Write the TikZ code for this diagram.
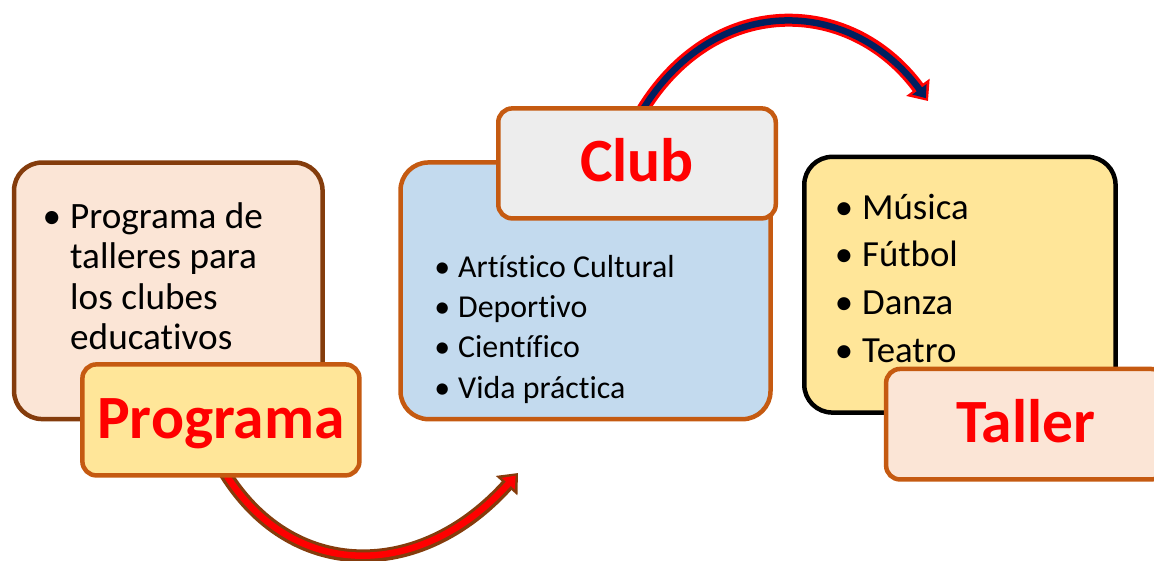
\documentclass[tikz,border=0pt]{standalone}
\usepackage{fontspec}
\setmainfont{Carlito}[Ligatures=NoCommon]
\usetikzlibrary{arrows.meta,backgrounds}
\definecolor{brownA}{HTML}{843C0C}
\definecolor{orangeB}{HTML}{C55A11}
\definecolor{peachA}{HTML}{FBE5D6}
\definecolor{yellowA}{HTML}{FFE699}
\definecolor{blueA}{HTML}{C3DAEE}
\definecolor{greyA}{HTML}{EDEDED}
\definecolor{navyA}{HTML}{002060}
\begin{document}
\begin{tikzpicture}[x=1pt,y=-1pt,
  panel/.style={rounded corners=28pt, line width=4.5pt, inner sep=0pt},
  tagbox/.style={rounded corners=14pt, line width=4.5pt, inner sep=0pt, draw=orangeB,
    text=red, font=\fontsize{61.5}{62}\selectfont\bfseries, text height=37pt, text depth=0pt,
    minimum width=277pt, minimum height=111pt},
  listtext/.style={anchor=base west, inner sep=0pt},
  outerA/.style={line width=13pt, brownA, -{Triangle[length=17pt,width=28pt]}},
  innerA/.style={line width=6.5pt, red, shorten >=3.5pt, -{Triangle[length=11pt,width=17pt]}},
  outerB/.style={line width=13pt, red, -{Triangle[length=17pt,width=28pt]}},
  innerB/.style={line width=6.5pt, navyA, shorten >=3.5pt, -{Triangle[length=11pt,width=17pt]}},
]
\useasboundingbox (0,0) rectangle (1154,560);
\begin{scope}
\clip (0,0) rectangle (1154,560);

% left group
\node[panel, draw=brownA, fill=peachA, minimum width=308.5pt, minimum height=256.5pt] (prog box) at (168.3,290.8) {};
\node[listtext, font=\fontsize{37.2}{40.5}\selectfont] (prog text) at (70,228)
  {\begin{tabular}[t]{@{}l@{}}\llap{•\hspace{9pt}}Programa de\\talleres para\\los clubes\\educativos\end{tabular}};
\node[tagbox, fill=yellowA] (prog) at (220.9,419.9) {Programa};

% middle group
\node[panel, draw=orangeB, fill=blueA, minimum width=370pt, minimum height=256.7pt] (club box) at (585.5,290.8) {};
\node[listtext, font=\fontsize{31.9}{40.4}\selectfont] (club text) at (458,277)
  {\begin{tabular}[t]{@{}l@{}}\llap{•\hspace{8pt}}Artístico Cultural\\\llap{•\hspace{8pt}}Deportivo\\\llap{•\hspace{8pt}}Científico\\\llap{•\hspace{8pt}}Vida práctica\end{tabular}};
\node[tagbox, fill=greyA, minimum width=277.5pt, minimum height=110pt] (club) at (637,163.4) {Club};

% right group
\node[panel, draw=black, fill=yellowA, minimum width=311.3pt, minimum height=255.7pt] (taller box) at (959.9,284.7) {};
\node[listtext, font=\fontsize{36.8}{47.7}\selectfont] (taller text) at (862,219)
  {\begin{tabular}[t]{@{}l@{}}\llap{•\hspace{9pt}}Música\\\llap{•\hspace{9pt}}Fútbol\\\llap{•\hspace{9pt}}Danza\\\llap{•\hspace{9pt}}Teatro\end{tabular}};
\node[tagbox, fill=peachA, minimum width=279pt, minimum height=110.5pt] (taller) at (1025.6,424.2) {Taller};

% connectors
\coordinate (endA) at (518,473);
\coordinate (endB) at (928,101);
\begin{scope}[on background layer]
  \draw[outerA] ([xshift=2pt,yshift=8pt]prog.south) .. controls (290,582) and (420,582) .. (endA);
  \draw[innerA] ([xshift=2pt,yshift=8pt]prog.south) .. controls (290,582) and (420,582) .. (endA);
  \draw[outerB] ([xshift=3pt,yshift=-8pt]club.north) .. controls (712,-8) and (850,-5) .. (endB);
  \draw[innerB] ([xshift=3pt,yshift=-8pt]club.north) .. controls (712,-8) and (850,-5) .. (endB);
\end{scope}
\end{scope}
\end{tikzpicture}
\end{document}
